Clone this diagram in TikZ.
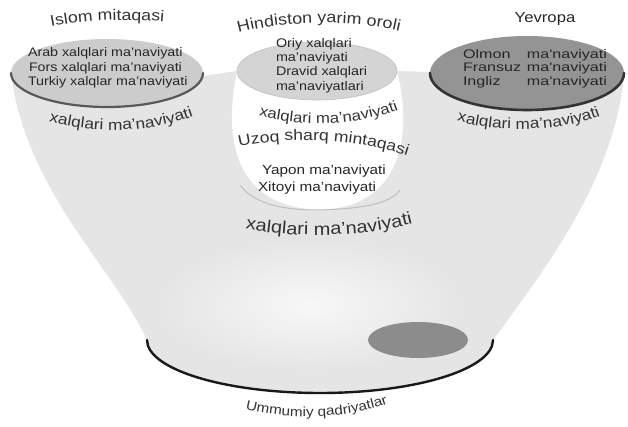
\documentclass[tikz,border=0pt]{standalone}
\usepackage{fontspec}
\setmainfont[FakeStretch=1.15]{Liberation Sans}
\newfontfamily\widefont[FakeStretch=1.3]{Liberation Sans}
\usetikzlibrary{decorations.text}
\newcommand\myfs[1]{\fontsize{#1}{#1}\selectfont}
\tikzset{
  x=1pt, y=-1pt,
  funnel/.style={fill=black!10},
  lbl/.style={inner sep=0pt, outer sep=0pt, text=black!85},
  inl/.style={lbl, anchor=base west, font=\myfs{12.4}},
  inh/.style={lbl, anchor=base west, font=\myfs{12.5}},
  inr/.style={lbl, anchor=base west, font=\widefont\myfs{12.4}},
  inu/.style={lbl, anchor=base west, font=\myfs{13.3}},
  curvtext/.style n args={2}{decorate, decoration={text along path,
      text align=center, text color=black!80, text={|\myfs{#1}|#2}}},
  rimstyle/.style={line cap=round},
}
\begin{document}
\begin{tikzpicture}
\useasboundingbox (0,0) rectangle (628,427);
% funnel body
\fill[funnel] (11,73) .. controls (25,190) and (115,270) .. (147,340)
  arc[start angle=180, end angle=0, x radius=173, y radius=53]
  .. controls (560,250) and (615,170) .. (624,75)
  -- (430,72) -- (397,71) -- (237,71) -- (203,76) -- cycle;
% light centre of funnel
\shade[inner color=black!3, outer color=black!10] (310,305) ellipse (150 and 65);
% white U region below Hindiston
\fill[white] (237,71) .. controls (225,130) and (228,205) .. (318,210)
  .. controls (405,208) and (412,130) .. (397,71) -- cycle;
\draw[black!25, line width=1pt] (240,185) .. controls (255,205) and (285,210) .. (318,210)
  .. controls (360,209) and (390,204) .. (400,190);
% bottom rim
\draw[rimstyle, black!90, line width=2.4pt] (493,340)
  arc[start angle=0, end angle=180, x radius=173, y radius=53];
% small dark ellipse
\fill[black!45] (418,340) ellipse (50 and 18);
% left ellipse (Islom)
\fill[black!20] (107,73) ellipse (96 and 34);
\draw[rimstyle, black!65, line width=2.2pt] (203,73)
  arc[start angle=0, end angle=180, x radius=96, y radius=34];
% middle ellipse (Hindiston)
\fill[black!17] (317,71) ellipse (80 and 29);
\draw[black!25, line width=0.6pt] (317,71) ellipse (80 and 29);
% right ellipse (Yevropa)
\fill[black!42] (527,73) ellipse (97 and 37);
\draw[rimstyle, black!80, line width=2.6pt] (624,73)
  arc[start angle=0, end angle=180, x radius=97, y radius=37];

% titles (curved)
\path[curvtext={15.4}{Islom mitaqasi}] (40,29) .. controls (85,19) and (130,18) .. (175,23);
\path[curvtext={15.6}{Hindiston yarim oroli}] (228,36) .. controls (280,19) and (360,19) .. (410,34);
\node[lbl, anchor=base, font=\myfs{14.5}] (yev) at (545,23) {Yevropa};
\path[curvtext={15.3}{Uzoq sharq mintaqasi}] (227,150) .. controls (280,135) and (360,137) .. (419,160);

% inner texts
\node[inl] (a1) at (28,57) {Arab xalqlari ma'naviyati};
\node[inl] (a2) at (29,72) {Fors xalqlari ma'naviyati};
\node[inl] (a3) at (28,86) {Turkiy xalqlar ma'naviyati};

\node[inh] (h1) at (276,48) {Oriy xalqlari};
\node[inh] (h2) at (276,62) {ma'naviyati};
\node[inh] (h3) at (276,76) {Dravid xalqlari};
\node[inh] (h4) at (276,91) {ma'naviyatlari};

\node[inr] (r1) at (463,59) {\makebox[144pt][s]{Olmon\hfill ma'naviyati}};
\node[inr] (r2) at (463,72) {\makebox[144pt][s]{Fransuz\hfill ma'naviyati}};
\node[inr] (r3) at (463,86) {\makebox[144pt][s]{Ingliz\hfill ma'naviyati}};

\node[inu] (u1) at (262,175) {Yapon ma'naviyati};
\node[inu] (u2) at (258,192) {Xitoyi ma'naviyati};

% curved lower labels
\path[curvtext={15.1}{xalqlari ma'naviyati}] (37,118) .. controls (90,135) and (150,135) .. (205,112);
\path[curvtext={14.6}{xalqlari ma'naviyati}] (247,112) .. controls (290,128) and (360,128) .. (410,105);
\path[curvtext={15}{xalqlari ma'naviyati}] (445,117) .. controls (490,134) and (565,134) .. (612,111);
\path[curvtext={17.4}{xalqlari ma'naviyati}] (233,226) .. controls (285,239) and (365,239) .. (425,220);
\path[curvtext={13.3}{Ummumiy qadriyatlar}] (233,406) .. controls (280,421) and (350,421) .. (400,399);
\end{tikzpicture}
\end{document}
